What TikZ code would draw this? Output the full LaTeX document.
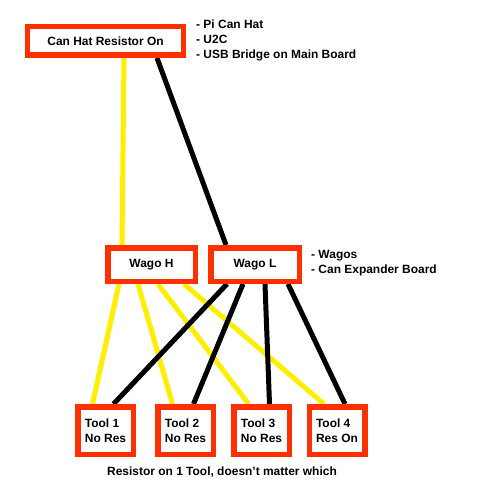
\documentclass[tikz,border=0pt]{standalone}
\usepackage{fontspec}
\setmainfont{Liberation Sans}
\usetikzlibrary{backgrounds}
\definecolor{boxred}{RGB}{255,48,0}
\definecolor{wireyellow}{RGB}{255,238,0}
\begin{document}
\begin{tikzpicture}[x=1bp,y=-1bp,
font=\bfseries\fontsize{12}{15}\selectfont,
box/.style={draw=boxred,line width=5.5bp,fill=white,inner sep=0pt},
toolbox/.style={box,minimum width=55.5bp,minimum height=47.5bp,align=left},
wagobox/.style={box,minimum height=33.5bp},
note/.style={anchor=west,align=left,inner sep=0pt},
ywire/.style={draw=wireyellow,line width=5bp},
bwire/.style={draw=black,line width=5bp}]
\useasboundingbox (0,0) rectangle (500,500);
\node[box,minimum width=155.5bp,minimum height=28.5bp] (hat) at (105.5,41) {Can Hat Resistor On};
\node[note] (hatnote) at (196,40.5) {- Pi Can Hat\\- U2C\\- USB Bridge on Main Board};
\node[wagobox,minimum width=87.5bp] (wagoH) at (151.5,264.5) {Wago H};
\node[wagobox,minimum width=88.5bp] (wagoL) at (255,264.5) {Wago L};
\node[note] (wagonote) at (311,263.5) {- Wagos\\- Can Expander Board};
\node[toolbox] (tool1) at (105.5,430.5) {Tool 1\\No Res};
\node[toolbox] (tool2) at (185.5,430.5) {Tool 2\\No Res};
\node[toolbox] (tool3) at (261.5,430.5) {Tool 3\\No Res};
\node[toolbox] (tool4) at (337,430.5) {Tool 4\\Res On};
\node (caption) at (222,472) {Resistor on 1 Tool, doesn't matter which};
\begin{scope}[on background layer]
\draw[ywire] ([xshift=18.5bp]hat.south) -- ([xshift=-29.5bp]wagoH.north);
\draw[bwire] ([xshift=51.5bp]hat.south) -- ([xshift=-29bp]wagoL.north);
\foreach \i/\s in {1/-32.5,2/-13.5,3/6.5,4/32.5}
  \draw[ywire] ([xshift=\s bp]wagoH.south) -- ([xshift=-13bp]tool\i.north);
\foreach \i/\s in {1/-28,2/-12,3/10,4/33}
  \draw[bwire] ([xshift=\s bp]wagoL.south) -- ([xshift=8bp]tool\i.north);
\end{scope}
\end{tikzpicture}
\end{document}
